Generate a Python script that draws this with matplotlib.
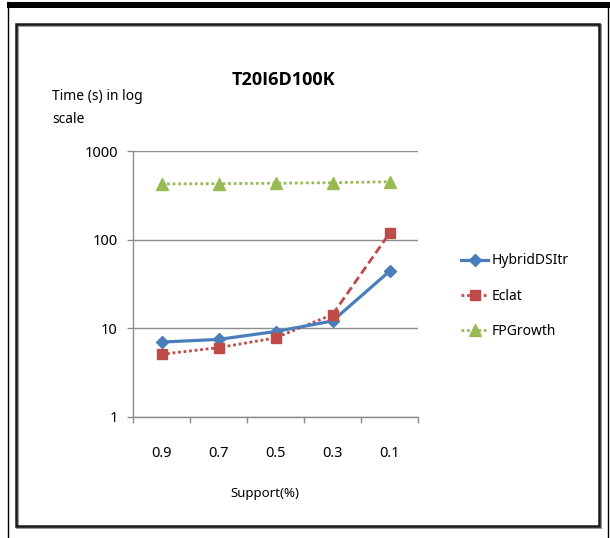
import matplotlib.pyplot as plt
from matplotlib.patches import Rectangle
from matplotlib.lines import Line2D

W, H = 610, 538
FIG_SIZE = (W / 100, H / 100)
SAVE_PATH = "out.png"

plt.rcParams['font.family'] = ['Noto Sans', 'DejaVu Sans']

supports = ["0.9", "0.7", "0.5", "0.3", "0.1"]
hybrid = [7.0, 7.5, 9.2, 12.1, 44]
eclat = [5.1, 6.05, 7.8, 14.3, 118]
fpgrowth = [425, 428, 433, 439, 450]

BLUE = "#4A7EBB"
RED = "#BE4B48"
GREEN = "#98B954"
GRID = "#8c8c8c"


def px(x, y):
    # pixel position (top-left origin) -> figure fraction
    return x / W, 1 - y / H


def draw_frames(fig):
    # outer page edges
    fig.add_artist(Rectangle(px(7, 8), (W - 7) / W, 6 / H, transform=fig.transFigure,
                             facecolor="black", edgecolor="none"))
    fig.add_artist(Line2D([7.5 / W, 7.5 / W], [0, 1 - 2 / H], transform=fig.transFigure,
                          color="black", lw=1.0))
    fig.add_artist(Line2D([607.5 / W, 607.5 / W], [0, 1 - 8 / H], transform=fig.transFigure,
                          color="black", lw=1.0))
    # chart area border with a soft shadow
    x0, y0 = px(16, 526)
    fig.add_artist(Rectangle((x0 + 1 / W, y0 - 1 / H), 583 / W, 502 / H, transform=fig.transFigure,
                             facecolor="none", edgecolor="#9a9a9a", lw=2.2))
    fig.add_artist(Rectangle((x0, y0), 583 / W, 502 / H, transform=fig.transFigure,
                             facecolor="none", edgecolor="#1a1a1a", lw=1.8))


def plot():
    fig = plt.figure(figsize=FIG_SIZE, dpi=100)
    fig.patch.set_facecolor("white")
    draw_frames(fig)

    left, bottom = px(133, 417)
    ax = fig.add_axes([left, bottom, 285 / W, 266 / H])

    x = list(range(len(supports)))
    ax.plot(x, hybrid, color=BLUE, lw=2.3, marker="D", ms=6, label="HybridDSItr", zorder=4)
    ax.plot(x[:4], eclat[:4], color=RED, lw=2.0, ls=(0, (1, 1)), zorder=3)
    ax.plot(x[3:], eclat[3:], color=RED, lw=2.0, ls=(0, (3, 1.5)), zorder=3)
    ax.plot(x, eclat, color=RED, lw=0, marker="s", ms=7, zorder=5)
    ax.plot(x, fpgrowth, color=GREEN, lw=2.0, ls=(0, (1, 1)), marker="^", ms=8, zorder=3)

    ax.set_yscale("log")
    ax.set_ylim(1, 1000)
    ax.set_xlim(-0.5, len(supports) - 0.5)
    ax.set_yticks([1, 10, 100, 1000])
    ax.set_yticklabels(["1", "10", "100", "1000"])
    ax.minorticks_off()
    ax.yaxis.grid(True, color=GRID, lw=1.0)
    ax.set_axisbelow(True)

    ax.set_xticks([i - 0.5 for i in range(len(supports) + 1)])
    ax.set_xticklabels([])
    ax.set_xticks(x, minor=True)
    ax.set_xticklabels(supports, minor=True)
    ax.tick_params(axis="x", which="major", length=4, color=GRID, width=1)
    ax.tick_params(axis="x", which="minor", length=0, pad=21, labelsize=10.5)
    ax.tick_params(axis="y", which="major", length=4, color=GRID, width=1, pad=7, labelsize=10.5)

    for side in ("top", "right"):
        ax.spines[side].set_visible(False)
    for side in ("left", "bottom"):
        ax.spines[side].set_color(GRID)
        ax.spines[side].set_linewidth(1.0)

    fig.text(*px(283, 80), "T20I6D100K", ha="center", va="center",
             fontsize=13, fontweight="bold", family=["Open Sans", "DejaVu Sans"])
    fig.text(*px(52, 108), "Time (s) in log\nscale", ha="left", va="center",
             fontsize=10, linespacing=1.8)
    fig.text(*px(265, 494), "Support(%)", ha="center", va="center", fontsize=9.5)

    handles = [
        Line2D([], [], color=BLUE, lw=2.3, marker="D", ms=6),
        Line2D([], [], color=RED, lw=2.0, ls=(0, (1, 1)), marker="s", ms=7),
        Line2D([], [], color=GREEN, lw=2.0, ls=(0, (1, 1)), marker="^", ms=8),
    ]
    fig.legend(handles, ["HybridDSItr", "Eclat", "FPGrowth"],
               loc="center left", bbox_to_anchor=px(449, 296),
               frameon=False, fontsize=10, handlelength=1.9,
               handletextpad=0.25, labelspacing=1.45)

    fig.savefig(SAVE_PATH, dpi=100)


plot()
